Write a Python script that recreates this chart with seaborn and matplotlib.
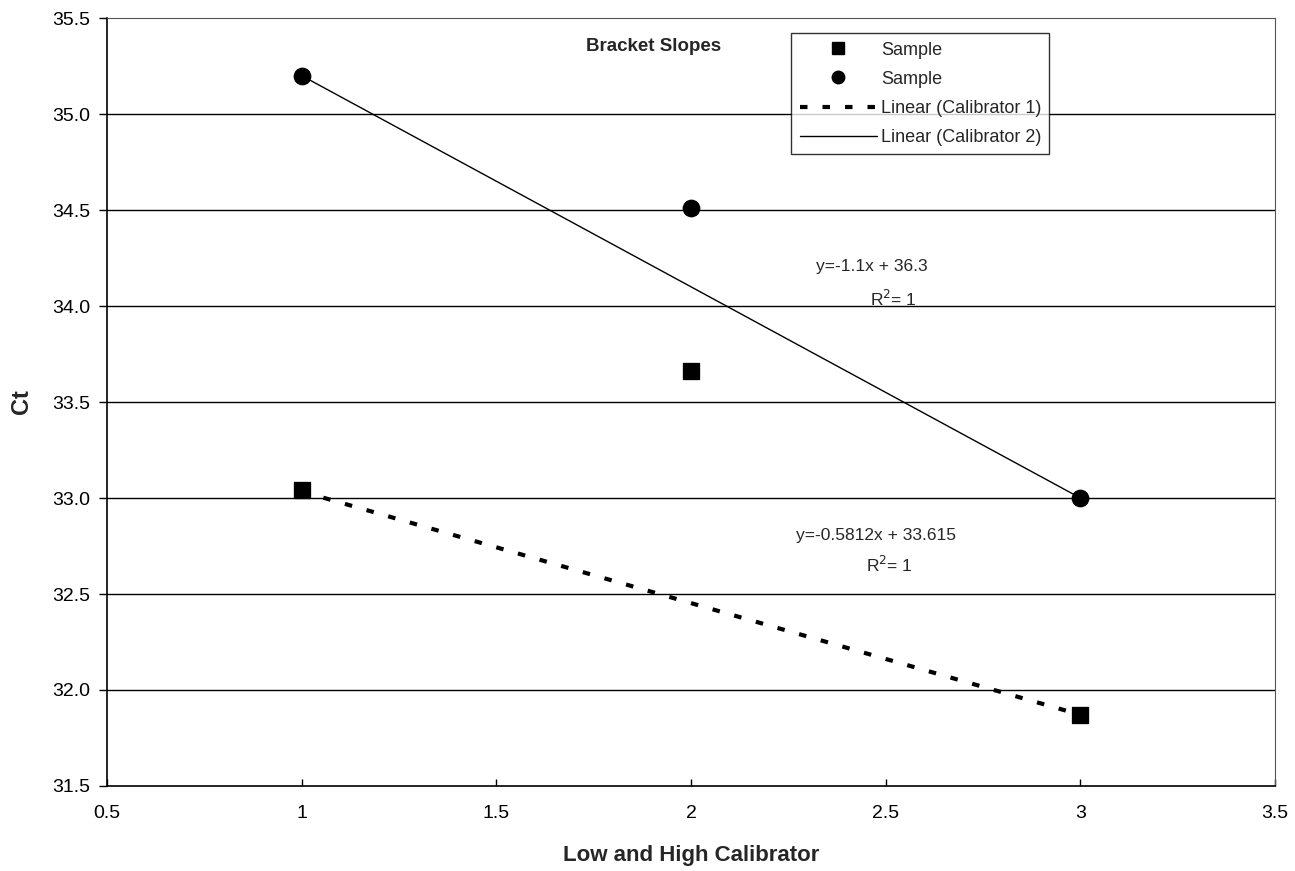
import numpy as np
import pandas as pd
import matplotlib
matplotlib.use("Agg")
import matplotlib.pyplot as plt
import seaborn as sns
from matplotlib.lines import Line2D

# ---- data ----
x_vals = [1, 2, 3]
square_ct = [33.04, 33.66, 31.87]   # Sample (squares)
circle_ct = [35.20, 34.51, 33.00]   # Sample (circles)
cal_x = [1, 3]
cal1_ct = [33.034, 31.871]          # Calibrator 1 (squares at 1 and 3)
cal2_ct = [35.2, 33.0]              # Calibrator 2 (circles at 1 and 3)
eq1_text = "y=-0.5812x + 33.615"
eq2_text = "y=-1.1x + 36.3"
legend_labels = ["Sample", "Sample", "Linear (Calibrator 1)", "Linear (Calibrator 2)"]
x_ticks = [0.5, 1, 1.5, 2, 2.5, 3, 3.5]
x_tick_labels = ["0.5", "1", "1.5", "2", "2.5", "3", "3.5"]
y_ticks = [31.5, 32.0, 32.5, 33.0, 33.5, 34.0, 34.5, 35.0, 35.5]

sns.set_theme(style="white")
plt.rcParams['font.family'] = ['Liberation Sans', 'DejaVu Sans']

fig = plt.figure(figsize=(12.95, 8.71), dpi=100)
ax = fig.add_axes([0.0826, 0.0976, 0.902, 0.8817])

df_sq = pd.DataFrame({"x": x_vals, "ct": square_ct})
df_ci = pd.DataFrame({"x": x_vals, "ct": circle_ct})
df_c1 = pd.DataFrame({"x": cal_x, "ct": cal1_ct})
df_c2 = pd.DataFrame({"x": cal_x, "ct": cal2_ct})

# trend lines
sns.regplot(data=df_c2, x="x", y="ct", ax=ax, scatter=False, ci=None,
            line_kws=dict(color="black", lw=1.0, zorder=3))
sns.regplot(data=df_c1, x="x", y="ct", ax=ax, scatter=False, ci=None,
            line_kws=dict(color="black", lw=3.0, dashes=(1.8, 3.6),
                          dash_capstyle="butt", zorder=3))

# points
sns.scatterplot(data=df_sq, x="x", y="ct", ax=ax, marker="s", s=140,
                color="black", edgecolor="black", zorder=4)
sns.scatterplot(data=df_ci, x="x", y="ct", ax=ax, marker="o", s=140,
                color="black", edgecolor="black", zorder=4)

ax.set_xlim(0.5, 3.5)
ax.set_ylim(31.5, 35.5)
ax.set_xticks(x_ticks)
ax.set_xticklabels(x_tick_labels)
ax.set_yticks(y_ticks)
ax.set_yticklabels([f"{v:.1f}" for v in y_ticks])
ax.tick_params(axis="x", direction="in", length=5, width=1, colors="black",
               labelsize=14, pad=14)
ax.tick_params(axis="y", direction="out", length=6, width=1, colors="black",
               labelsize=14, pad=6, left=True)
ax.tick_params(axis="x", bottom=True)

for yv in y_ticks[1:-1]:
    ax.axhline(yv, color="black", lw=1.0, zorder=1)

ax.spines["left"].set_color("black")
ax.spines["left"].set_linewidth(1.2)
ax.spines["bottom"].set_color("black")
ax.spines["bottom"].set_linewidth(1.2)
ax.spines["top"].set_color("#555555")
ax.spines["top"].set_linestyle((0, (1, 1)))
ax.spines["top"].set_linewidth(0.8)
ax.spines["right"].set_color("#555555")
ax.spines["right"].set_linewidth(0.8)

ax.set_xlabel("Low and High Calibrator", fontsize=16, fontweight="bold", labelpad=16)
ax.set_ylabel("Ct", fontsize=17, fontweight="bold", labelpad=14)

# title text inside plot
ax.text(0.468, 0.963, "Bracket Slopes", transform=ax.transAxes, fontsize=13.5,
        fontweight="bold", ha="center", va="center")

# equations
ax.text(0.655, 0.676, eq2_text, transform=ax.transAxes, fontsize=12.5,
        ha="center", va="center")
ax.text(0.673, 0.634, r"R$^2$= 1", transform=ax.transAxes, fontsize=12.5,
        ha="center", va="center")
ax.text(0.658, 0.326, eq1_text, transform=ax.transAxes, fontsize=12.5,
        ha="center", va="center")
ax.text(0.670, 0.288, r"R$^2$= 1", transform=ax.transAxes, fontsize=12.5,
        ha="center", va="center")

handles = [
    Line2D([], [], marker="s", color="black", ls="none", markersize=8),
    Line2D([], [], marker="o", color="black", ls="none", markersize=9),
    Line2D([], [], color="black", lw=3.0, dashes=(1.8, 3.6), dash_capstyle="butt"),
    Line2D([], [], color="black", lw=1.0),
]
leg = ax.legend(handles, legend_labels, loc="upper left",
                bbox_to_anchor=(0.586, 0.980), frameon=True, fancybox=False,
                fontsize=13, handlelength=4.3, handletextpad=0.2,
                borderpad=0.45, labelspacing=0.68, borderaxespad=0)
leg.get_frame().set_edgecolor("black")
leg.get_frame().set_linewidth(1.0)
leg.get_frame().set_facecolor("white")
leg.set_zorder(5)

fig.savefig("out.png", dpi=100)
